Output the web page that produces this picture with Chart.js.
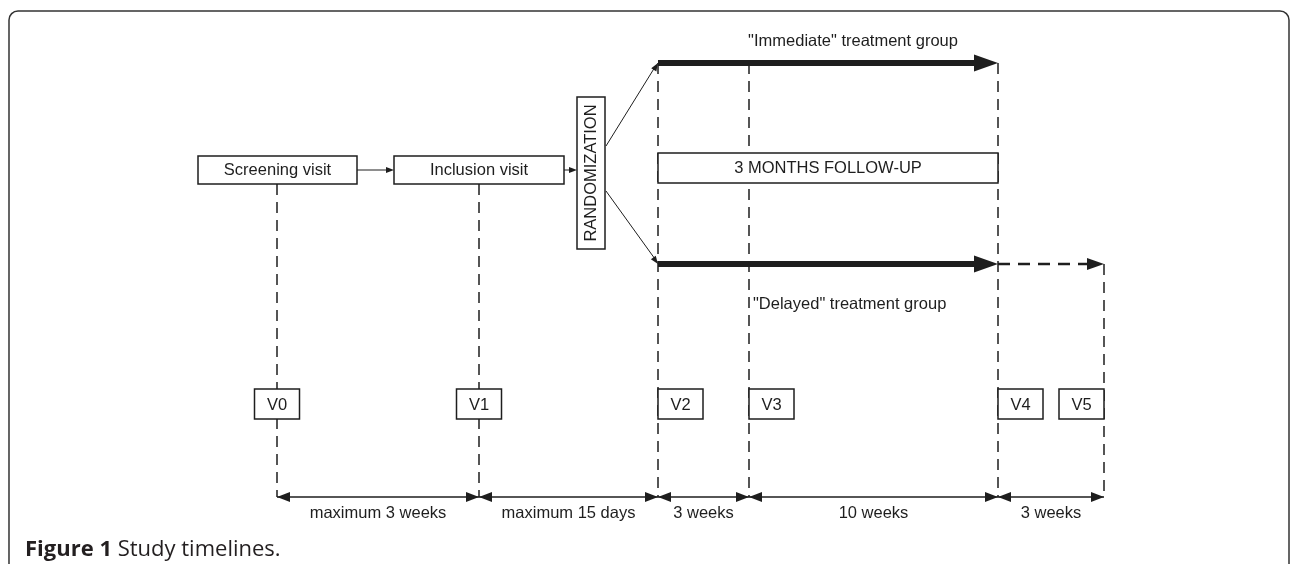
<!DOCTYPE html>
<html>
<head>
<meta charset="utf-8">
<script src="https://cdn.jsdelivr.net/npm/chart.js@4.4.1/dist/chart.umd.min.js"></script>
<style>
  html, body { margin: 0; padding: 0; background: #fff; }
  canvas { display: block; }
</style>
</head>
<body>
<canvas id="timeline" width="1292" height="564"></canvas>
<script>
// Visits on the timeline (diagram units along x)
const visitLabels = ['V0', 'V1', 'V2', 'V3', 'V4', 'V5'];
const visitX = [277, 479, 658, 749, 998, 1104];
const visitLineTop = [184, 184, 63, 63, 63, 264]; // where each dashed line starts
const visitBoxSide = ['center', 'center', 'right', 'right', 'right', 'left'];

// Durations between consecutive visits
const intervalLabels = ['maximum 3 weeks', 'maximum 15 days', '3 weeks', '10 weeks', '3 weeks'];

// Steps before randomization
const stepLabels = ['Screening visit', 'Inclusion visit'];
const stepLeft = [198, 394];
const stepRight = [357, 564];

// Treatment groups
const groupLabels = ['"Immediate" treatment group', '"Delayed" treatment group'];
const groupY = [63, 264];
const followUpLabel = '3 MONTHS FOLLOW-UP';
const randomLabel = 'RANDOMIZATION';
const captionBold = 'Figure 1';
const captionText = ' Study timelines.';

const INK = '#1e1e1e';
const FONT = '"Liberation Sans", Arial, sans-serif';
const DIM_Y = 497;   // dimension line
const BOX_Y = [389, 419];

function seg(x1, y1, x2, y2, width, dash) {
    return {
        type: 'line',
        data: [{ x: x1, y: y1 }, { x: x2, y: y2 }],
        borderColor: INK,
        borderWidth: width,
        borderDash: dash || [],
        pointRadius: 0,
        fill: false,
        tension: 0
    };
}

const datasets = [];
// dashed visit lines
visitX.forEach((x, i) => datasets.push(seg(x, visitLineTop[i], x, DIM_Y, 1.5, [11, 7])));
// dimension line
datasets.push(seg(visitX[0], DIM_Y, visitX[visitX.length - 1], DIM_Y, 1.6));
// thick group arrows
groupY.forEach(y => datasets.push(seg(visitX[2], y, visitX[4] - 20, y, 6)));
// dashed extension for delayed group
datasets.push(seg(visitX[4], groupY[1], visitX[5] - 14, groupY[1], 2.5, [12, 8]));
// small connectors
datasets.push(seg(stepRight[0], 170, stepLeft[1] - 6, 170, 1));
datasets.push(seg(stepRight[1], 170, 571, 170, 1));
datasets.push(seg(606, 146, visitX[2] - 3, groupY[0] + 4, 1));
datasets.push(seg(606, 191, visitX[2] - 3, groupY[1] - 5, 1));

const diagram = {
    id: 'diagram',
    afterDatasetsDraw(chart) {
        const ctx = chart.ctx;
        const sx = chart.scales.x, sy = chart.scales.y;
        const px = v => sx.getPixelForValue(v);
        const py = v => sy.getPixelForValue(v);

        const tri = (tipX, tipY, ang, len, half) => {
            const c = Math.cos(ang), s = Math.sin(ang);
            ctx.beginPath();
            ctx.moveTo(px(tipX), py(tipY));
            ctx.lineTo(px(tipX) - len * c - half * s, py(tipY) - len * s + half * c);
            ctx.lineTo(px(tipX) - len * c + half * s, py(tipY) - len * s - half * c);
            ctx.closePath();
            ctx.fillStyle = INK;
            ctx.fill();
        };
        const box = (x1, y1, x2, y2) => {
            ctx.fillStyle = '#fff';
            ctx.fillRect(px(x1), py(y1), px(x2) - px(x1), py(y2) - py(y1));
            ctx.strokeStyle = INK;
            ctx.lineWidth = 1.5;
            ctx.strokeRect(px(x1), py(y1), px(x2) - px(x1), py(y2) - py(y1));
        };
        const text = (str, x, y, align, size) => {
            ctx.fillStyle = INK;
            ctx.font = (size || 16.5) + 'px ' + FONT;
            ctx.textAlign = align || 'center';
            ctx.textBaseline = 'middle';
            ctx.fillText(str, px(x), py(y));
        };

        ctx.save();
        // outer frame
        ctx.strokeStyle = '#333';
        ctx.lineWidth = 1.5;
        ctx.beginPath();
        ctx.roundRect(px(9), py(11), px(1289) - px(9), 700, 9);
        ctx.stroke();

        // step boxes
        stepLabels.forEach((lab, i) => {
            box(stepLeft[i], 156, stepRight[i], 184);
            text(lab, (stepLeft[i] + stepRight[i]) / 2, 170.5);
        });
        tri(stepLeft[1], 170, 0, 8, 3);
        tri(577, 170, 0, 8, 3);

        // randomization box
        box(577, 97, 605, 249);
        ctx.save();
        ctx.translate(px(591.5), py(173));
        ctx.rotate(-Math.PI / 2);
        ctx.fillStyle = INK;
        ctx.font = '16.5px ' + FONT;
        ctx.textAlign = 'center';
        ctx.textBaseline = 'middle';
        ctx.fillText(randomLabel, 0, 0);
        ctx.restore();
        tri(visitX[2], groupY[0], Math.atan2(groupY[0] + 4 - 146, visitX[2] - 3 - 606), 8, 3);
        tri(visitX[2], groupY[1], Math.atan2(groupY[1] - 5 - 191, visitX[2] - 3 - 606), 8, 3);

        // follow-up box
        box(visitX[2], 153, visitX[4], 183);
        text(followUpLabel, (visitX[2] + visitX[4]) / 2, 168.5);

        // group arrow heads and labels
        groupY.forEach(y => tri(visitX[4], y, 0, 24, 8.5));
        tri(visitX[5], groupY[1], 0, 17, 6);
        text(groupLabels[0], 853, 41);
        text(groupLabels[1], visitX[3] + 4, 304, 'left');

        // visit boxes
        visitLabels.forEach((lab, i) => {
            const w = 45;
            let x1 = visitX[i] - w / 2;
            if (visitBoxSide[i] === 'right') x1 = visitX[i];
            if (visitBoxSide[i] === 'left') x1 = visitX[i] - w;
            box(x1, BOX_Y[0], x1 + w, BOX_Y[1]);
            text(lab, x1 + w / 2, (BOX_Y[0] + BOX_Y[1]) / 2 + 1);
        });

        // dimension arrows and labels
        intervalLabels.forEach((lab, i) => {
            const a = visitX[i], b = visitX[i + 1];
            tri(a, DIM_Y, Math.PI, 13, 5);
            tri(b, DIM_Y, 0, 13, 5);
            text(lab, (a + b) / 2, 513);
        });

        // caption
        ctx.fillStyle = '#231f20';
        ctx.textAlign = 'left';
        ctx.textBaseline = 'middle';
        ctx.font = 'bold 22px "Open Sans", sans-serif';
        ctx.fillText(captionBold, px(25), py(550));
        const w0 = ctx.measureText(captionBold).width;
        ctx.font = '22px "Open Sans", sans-serif';
        ctx.fillText(captionText, px(25) + w0, py(550));
        ctx.restore();
    }
};

new Chart(document.getElementById('timeline'), {
    type: 'scatter',
    data: { datasets },
    options: {
        responsive: false,
        animation: false,
        layout: { padding: 0 },
        scales: {
            x: { type: 'linear', min: 0, max: 1292, display: false },
            y: { type: 'linear', min: 0, max: 564, reverse: true, display: false }
        },
        plugins: {
            legend: { display: false },
            tooltip: { enabled: false }
        }
    },
    plugins: [diagram]
});
</script>
</body>
</html>
